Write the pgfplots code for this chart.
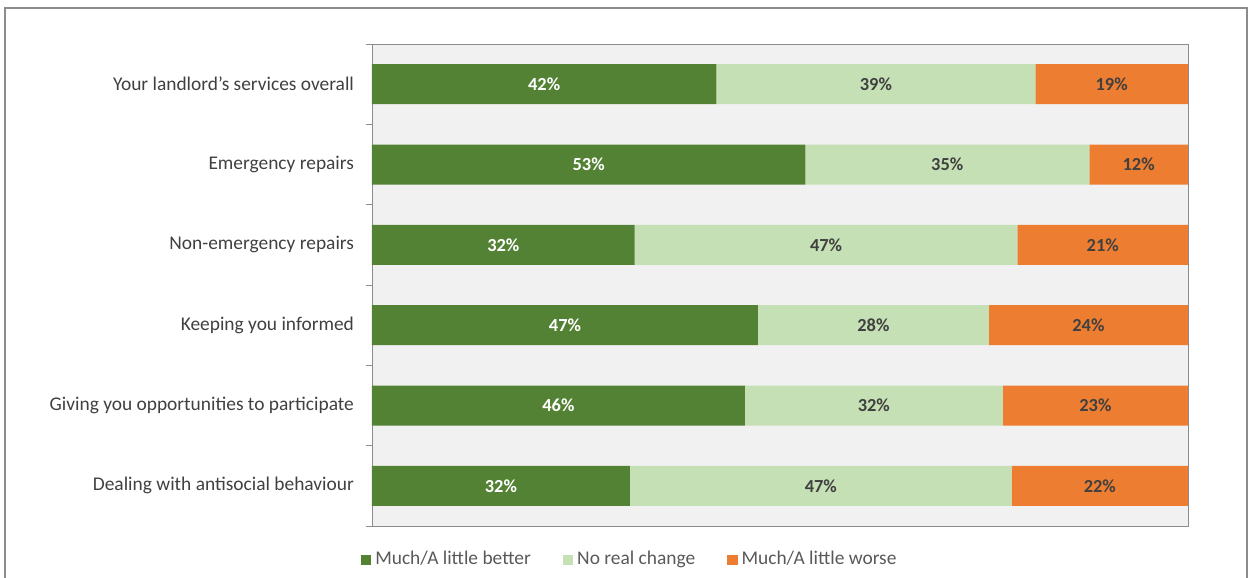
\documentclass[border=0pt]{standalone}
\usepackage{pgfplots}
\pgfplotsset{compat=1.18}
\usepackage{fontspec}
\setmainfont{Carlito}
\definecolor{dg}{HTML}{548235}
\definecolor{lg}{HTML}{C5E0B4}
\definecolor{orng}{HTML}{ED7D31}
\definecolor{txt}{HTML}{404040}
\definecolor{legtxt}{HTML}{595959}
\definecolor{bg}{HTML}{F1F1F1}
\definecolor{framec}{HTML}{8C8C8C}
\begin{document}
\begin{tikzpicture}
\path[use as bounding box] (-186pt,-26pt) rectangle (438.5pt,263pt);
\draw[framec, line width=0.6pt] (-183.5pt,-40pt) rectangle (437.5pt,259pt);
\begin{axis}[
  at={(0,0)}, anchor=south west,
  scale only axis, width=408pt, height=241pt,
  xbar stacked, bar width=20pt,
  xmin=0, xmax=100, ymin=-0.5, ymax=5.5, y dir=reverse,
  xtick=\empty,
  ytick={0,...,5},
  yticklabels={Your landlord’s services overall, Emergency repairs, Non-emergency repairs, Keeping you informed, Giving you opportunities to participate, Dealing with antisocial behaviour},
  minor ytick={-0.5,0.5,...,5.5},
  major tick length=0pt, minor tick length=3pt,
  tick align=outside, ytick pos=left,
  tick style={framec},
  axis line style={framec},
  axis background/.style={fill=bg},
  yticklabel style={font=\fontsize{9.7}{11}\selectfont, text=txt, xshift=-5.5pt},
  /pgf/number format/assume math mode=true,
  visualization depends on=rawx \as \rawx,
  nodes near coords={\pgfmathprintnumber[fixed,precision=0]{\rawx}\%},
  every node near coord/.append style={font=\fontsize{9.2}{11}\selectfont\bfseries, text=txt, anchor=center},
  legend style={at={(0.317,-0.07)}, anchor=center, legend columns=3, draw=none, fill=none, font=\fontsize{9.7}{11}\selectfont, text=legtxt, /tikz/every even column/.append style={column sep=14pt}},
  legend image code/.code={\fill[#1] (0pt,-2.6pt) rectangle (5.2pt,2.6pt);},
]
\addplot[fill=dg, draw=none, every node near coord/.append style={text=white}] coordinates {(42.2,0) (53.1,1) (32.2,2) (47.3,3) (45.7,4) (31.6,5)};
\addplot[fill=lg, draw=none] coordinates {(39.1,0) (34.8,1) (46.9,2) (28.3,3) (31.6,4) (46.8,5)};
\addplot[fill=orng, draw=none] coordinates {(18.7,0) (12.1,1) (20.9,2) (24.4,3) (22.7,4) (21.6,5)};
\legend{Much/A little better, No real change, Much/A little worse}
\end{axis}
\end{tikzpicture}
\end{document}
